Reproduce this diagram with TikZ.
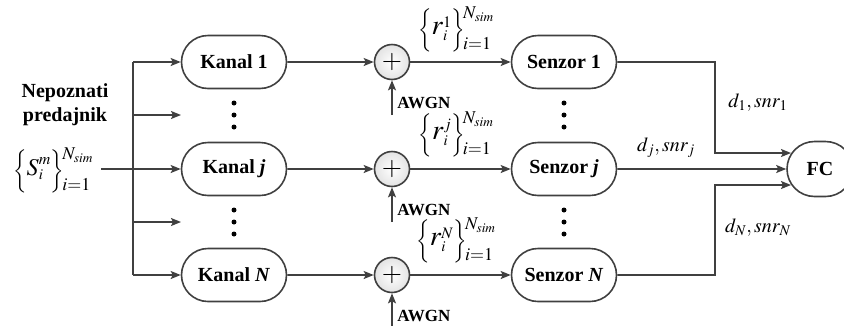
\documentclass[tikz,border=0pt]{standalone}
\usepackage{amsmath}
\usepackage{mathptmx}
\usepackage{fontspec}
\setmainfont{Liberation Serif}
\usetikzlibrary{shapes.misc, arrows.meta}

\definecolor{linegray}{RGB}{64,64,64}
% set of N_sim samples: #1 size of the letter, #2 letter, #3 index
\newcommand{\simset}[3]{%
  $\biggl\{ \mbox{\fontsize{#1}{#1}\selectfont$#2$}%
  _{\mbox{\fontsize{15}{15}\selectfont$i$}}%
  ^{\mbox{\fontsize{16}{16}\selectfont$#3$}} \biggr\}\!%
  \begin{array}{@{}l@{}} N_{sim}\\[9pt] i{=}1 \end{array}$}

\tikzset{
  block/.style={rounded rectangle, draw=linegray, line width=1.6pt,
    minimum width=105pt, minimum height=53pt, inner sep=0pt,
    font=\fontsize{20}{24}\selectfont\bfseries},
  adder/.style={circle, draw=linegray, line width=1.6pt, minimum size=35pt,
    inner sep=0pt, inner color=white, outer color=gray!22,
    font=\fontsize{26}{26}\selectfont},
  link/.style={draw=linegray, line width=1.6pt},
  sig/.style={link, -{Stealth[length=10pt, width=8pt, inset=2pt]}},
  noise/.style={anchor=west, inner sep=0pt, font=\fontsize{17}{20}\selectfont\bfseries},
  lbl/.style={inner sep=0pt, font=\fontsize{20}{24}\selectfont},
  setlbl/.style={inner sep=0pt, font=\fontsize{18}{22}\selectfont}
}

\begin{document}
\begin{tikzpicture}[x=1pt, y=-1pt, thick]
  \useasboundingbox (0,0) rectangle (844,325);

  % source
  \node[lbl, align=center, font=\fontsize{20}{24}\selectfont\bfseries] (tx) at (65,105) {Nepoznati\\predajnik};
  \node[setlbl] (src) at (53,171) {\simset{24}{S}{m}};
  \coordinate (in)   at (101,169);
  \coordinate (bus1) at (133,62);
  \coordinate (busa) at (133,115);
  \coordinate (busj) at (133,169);
  \coordinate (busb) at (133,222);
  \coordinate (busN) at (133,275);
  \coordinate (da)   at (181,115);
  \coordinate (db)   at (181,222);

  % channels, adders, sensors
  \node[block] (K1) at (234,62)  {Kanal 1};
  \node[block] (Kj) at (234,169) {Kanal \textit{j}};
  \node[block] (KN) at (234,275) {Kanal \textit{N}};
  \node[adder] (A1) at (392,62)  {$+$};
  \node[adder] (Aj) at (392,169) {$+$};
  \node[adder] (AN) at (392,275) {$+$};
  \node[block] (S1) at (564,62)  {Senzor 1};
  \node[block] (Sj) at (564,169) {Senzor \textit{j}};
  \node[block] (SN) at (564,275) {Senzor \textit{N}};
  \node[block, minimum width=66pt, minimum height=55pt] (FC) at (820,169) {FC};

  % noise inputs
  \coordinate (n1) at (392,115);
  \coordinate (nj) at (392,222);
  \coordinate (nN) at (392,327);
  \node[noise] (w1) at (397,103) {AWGN};
  \node[noise] (wj) at (397,210) {AWGN};
  \node[noise] (wN) at (397,316) {AWGN};

  % received signals
  \node[setlbl] (r1) at (456,30)  {\simset{28}{r}{1}};
  \node[setlbl] (rj) at (456,135) {\simset{28}{r}{j}};
  \node[setlbl] (rN) at (456,241) {\simset{28}{r}{N}};

  % decisions
  \coordinate (b1)  at (715,62);
  \coordinate (bN)  at (715,275);
  \coordinate (fc1) at (791,153);
  \coordinate (fcN) at (791,185);
  \node[lbl] (d1) at (758,103) {$d_1, snr_1$};
  \node[lbl] (dj) at (666,148) {$d_j, snr_j$};
  \node[lbl] (dN) at (758,228) {$d_N, snr_N$};

  % connectors
  \draw[link] (in) -- (busj);
  \draw[link] (bus1) -- (busN);
  \draw[sig] (bus1) -- (K1);
  \draw[sig] (busa) -- (da);
  \draw[sig] (busj) -- (Kj);
  \draw[sig] (busb) -- (db);
  \draw[sig] (busN) -- (KN);
  \draw[sig] (K1) -- (A1);
  \draw[sig] (Kj) -- (Aj);
  \draw[sig] (KN) -- (AN);
  \draw[sig] (n1) -- (A1);
  \draw[sig] (nj) -- (Aj);
  \draw[sig] (nN) -- (AN);
  \draw[sig] (A1) -- (S1);
  \draw[sig] (Aj) -- (Sj);
  \draw[sig] (AN) -- (SN);
  \draw[sig] (S1) -- (b1) |- (fc1);
  \draw[sig] (Sj) -- (FC);
  \draw[sig] (SN) -- (bN) |- (fcN);

  % dots
  \foreach \x in {234,564}
    \foreach \y in {103,115,127,210,222,234}
      \fill (\x,\y) circle (2.5pt);
\end{tikzpicture}
\end{document}
